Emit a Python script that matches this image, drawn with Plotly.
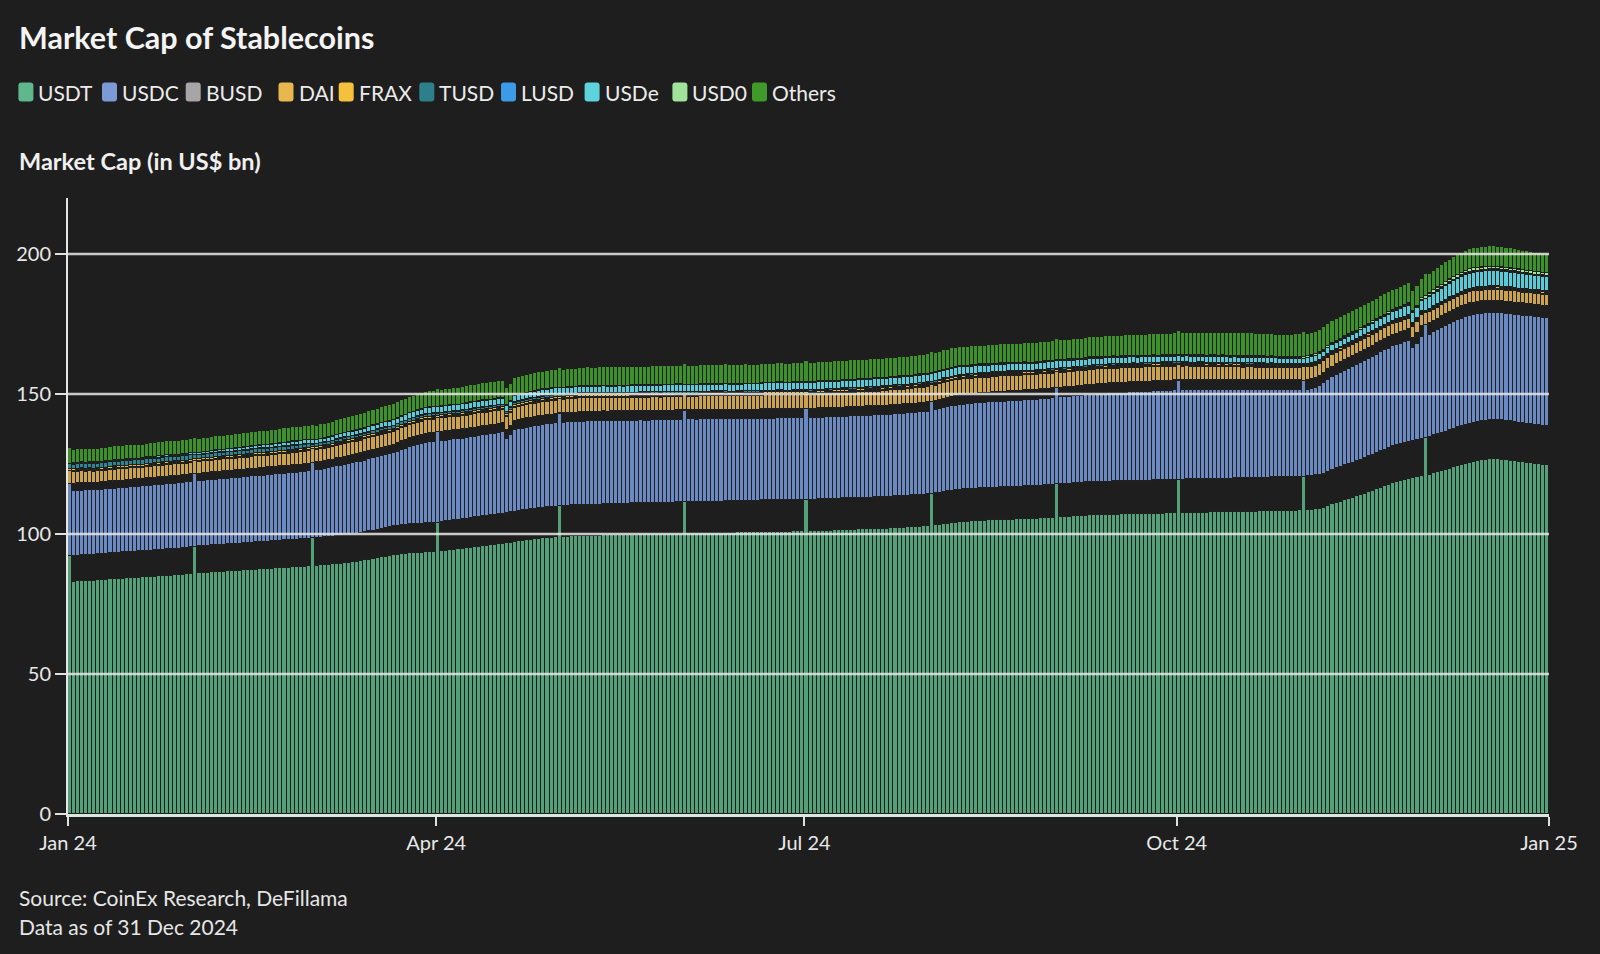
import numpy as np
import pandas as pd
import plotly.graph_objects as go

# ---------------- data (US$ bn, one value per day of 2024) ----------------
YEAR_START = "2024-01-01"
MONTH_DAYS = [31, 29, 31, 30, 31, 30, 31, 31, 30, 31, 30, 31]
SERIES_NAMES = ["USDT", "USDC", "BUSD", "DAI", "FRAX", "TUSD", "LUSD", "USDe", "USD0", "Others"]
TICK_DATES = ["2024-01-01", "2024-04-01", "2024-07-01", "2024-10-01", "2025-01-01"]
TICK_LABELS = ["Jan 24", "Apr 24", "Jul 24", "Oct 24", "Jan 25"]
Y_TICKS = [0, 50, 100, 150, 200]

USDT = [
    [92.0,92.1,92.3,92.4,92.5,92.6,92.6,92.8,92.9,93.0,93.1,93.2,93.3,93.4,93.5,93.6,93.7,93.8,93.9,94.0,94.1,94.2,94.3,94.4,94.5,94.6,94.7,94.8,95.0,95.1,95.3],
    [95.5,95.6,95.7,95.8,95.9,96.0,96.1,96.2,96.3,96.4,96.5,96.6,96.7,96.8,96.9,97.0,97.1,97.2,97.3,97.4,97.5,97.6,97.7,97.8,97.9,98.0,98.1,98.2,98.3],
    [98.5,98.6,98.7,98.8,99.0,99.1,99.3,99.4,99.6,99.8,100.0,100.1,100.3,100.6,100.9,101.2,101.5,101.8,102.1,102.4,102.7,102.9,103.1,103.2,103.4,103.5,103.6,103.7,103.8,103.9,104.0],
    [104.1,104.3,104.5,104.7,104.9,105.1,105.3,105.5,105.7,105.9,106.1,106.3,106.5,106.7,106.9,107.1,107.3,107.5,107.7,107.9,108.2,108.4,108.6,108.8,109.0,109.2,109.4,109.5,109.7,109.8],
    [110.0,110.1,110.1,110.2,110.2,110.3,110.3,110.4,110.4,110.5,110.5,110.6,110.6,110.7,110.7,110.8,110.8,110.8,110.9,110.9,111.0,111.0,111.0,111.1,111.1,111.1,111.2,111.2,111.2,111.3,111.3],
    [111.3,111.4,111.4,111.4,111.5,111.5,111.5,111.6,111.6,111.6,111.7,111.7,111.7,111.8,111.8,111.8,111.9,111.9,111.9,112.0,112.0,112.0,112.0,112.1,112.1,112.1,112.1,112.2,112.2,112.2],
    [112.2,112.3,112.3,112.4,112.4,112.5,112.5,112.6,112.6,112.7,112.7,112.8,112.8,112.9,112.9,113.0,113.0,113.1,113.1,113.2,113.2,113.3,113.4,113.5,113.6,113.7,113.8,113.9,114.0,114.1,114.3],
    [114.4,114.6,114.8,115.0,115.2,115.4,115.6,115.8,115.9,116.0,116.1,116.2,116.3,116.4,116.5,116.6,116.6,116.7,116.7,116.8,116.8,116.9,116.9,117.0,117.0,117.1,117.2,117.3,117.4,117.5,117.6],
    [117.7,117.8,117.9,118.0,118.1,118.2,118.3,118.4,118.5,118.5,118.6,118.6,118.7,118.7,118.8,118.8,118.9,118.9,119.0,119.0,119.0,119.1,119.1,119.1,119.2,119.2,119.2,119.3,119.3,119.4],
    [119.4,119.4,119.5,119.5,119.5,119.6,119.6,119.6,119.7,119.7,119.7,119.8,119.8,119.8,119.9,119.9,119.9,120.0,120.0,120.0,120.1,120.1,120.1,120.2,120.2,120.2,120.3,120.3,120.4,120.4,120.5],
    [120.5,120.6,120.7,120.9,121.2,121.6,122.3,122.9,123.5,124.0,124.5,125.0,125.5,126.0,126.5,127.1,127.7,128.3,128.9,129.5,130.1,130.7,131.3,131.7,132.1,132.5,132.9,133.3,133.6,134.0],
    [134.2,134.7,135.2,135.7,136.2,136.6,137.1,137.6,138.1,138.6,139.0,139.4,139.7,140.0,140.3,140.5,140.7,140.8,140.8,140.6,140.4,140.2,140.0,139.8,139.6,139.4,139.2,139.0,138.8,138.6,138.4],
]

USDC = [
    [25.8,25.8,25.7,25.7,25.6,25.6,25.6,25.5,25.5,25.5,25.6,25.6,25.6,25.6,25.6,25.7,25.7,25.7,25.7,25.8,25.8,25.8,25.8,25.8,25.9,25.9,25.9,25.9,25.9,25.9,25.9],
    [25.9,25.9,26.0,26.0,26.0,26.0,26.1,26.1,26.1,26.1,26.2,26.2,26.2,26.2,26.3,26.3,26.3,26.3,26.4,26.4,26.4,26.5,26.5,26.5,26.6,26.6,26.6,26.7,26.7],
    [26.8,26.9,27.0,27.1,27.2,27.4,27.6,27.8,28.0,28.1,28.2,28.3,28.4,28.5,28.6,28.7,28.8,28.9,29.0,29.0,29.1,29.5,29.9,30.3,30.7,31.0,31.3,31.6,31.9,32.0,32.1],
    [32.2,32.2,32.1,32.1,32.1,32.0,32.0,32.0,32.0,32.0,32.1,32.1,32.1,32.1,32.1,32.2,32.2,29.5,30.8,32.3,32.4,32.5,32.6,32.7,32.7,32.8,32.8,32.9,32.9,33.0],
    [33.0,33.0,33.1,33.1,33.1,33.2,33.2,33.2,33.2,33.1,33.1,33.1,33.0,33.0,33.0,33.0,32.9,32.9,32.9,32.9,32.9,32.8,32.8,32.8,32.8,32.8,32.8,32.8,32.8,32.8,32.8],
    [32.8,32.8,32.8,32.7,32.7,32.7,32.7,32.6,32.6,32.6,32.6,32.5,32.5,32.5,32.5,32.5,32.4,32.4,32.4,32.4,32.4,32.4,32.4,32.4,32.4,32.4,32.4,32.4,32.4,32.4],
    [32.4,32.4,32.4,32.4,32.4,32.4,32.4,32.4,32.4,32.4,32.5,32.5,32.5,32.5,32.5,32.5,32.5,32.5,32.5,32.5,32.6,32.6,32.6,32.6,32.6,32.6,32.6,32.6,32.7,32.7,32.7],
    [32.7,32.9,33.1,33.3,33.4,33.5,33.6,33.7,33.7,33.8,33.8,33.8,33.9,33.9,33.9,34.0,34.0,34.0,34.0,34.1,34.1,34.1,34.1,34.2,34.2,34.2,34.2,34.3,34.3,34.3,34.3],
    [34.3,34.4,34.4,34.5,34.5,34.6,34.6,34.7,34.7,34.8,34.8,34.9,34.9,35.0,35.0,35.0,35.1,35.1,35.1,35.2,35.2,35.2,35.3,35.3,35.3,35.3,35.4,35.4,35.4,35.4],
    [35.4,35.4,35.4,35.3,35.3,35.3,35.3,35.2,35.2,35.2,35.1,35.1,35.1,35.0,35.0,35.0,34.9,34.9,34.9,34.8,34.8,34.8,34.7,34.7,34.6,34.6,34.5,34.5,34.4,34.4,34.3],
    [34.2,34.4,34.6,34.9,35.3,35.8,36.4,36.7,37.0,37.2,37.5,37.7,37.9,38.1,38.3,38.5,38.7,38.9,39.1,39.3,39.4,39.5,39.7,39.8,39.9,40.0,40.1,36.8,38.2,40.3],
    [40.3,40.6,40.9,41.2,41.5,41.8,42.0,42.2,42.4,42.6,42.8,42.9,42.9,42.8,42.7,42.6,42.5,42.4,42.4,42.4,42.5,42.5,42.6,42.6,42.7,42.7,42.8,42.8,42.9,42.9,43.0],
]

DAI = [
    [4.5,4.5,4.6,4.6,4.5,4.5,4.4,4.4,4.5,4.5,4.5,4.6,4.6,4.6,4.5,4.5,4.5,4.4,4.4,4.5,4.5,4.5,4.5,4.6,4.6,4.6,4.6,4.5,4.5,4.5,4.5],
    [4.5,4.5,4.6,4.6,4.6,4.7,4.7,4.7,4.7,4.6,4.6,4.6,4.7,4.7,4.8,4.8,4.8,4.8,4.7,4.7,4.7,4.8,4.8,4.8,4.9,4.9,4.9,4.9,4.9],
    [4.9,4.9,5.0,5.0,5.0,5.0,5.1,5.1,5.1,5.0,5.0,5.0,5.1,5.1,5.1,5.2,5.2,5.2,5.2,5.1,5.1,5.1,5.2,5.2,5.2,5.2,5.3,5.3,5.3,5.2,5.2],
    [5.2,5.2,5.3,5.3,5.3,5.2,5.2,5.2,5.3,5.3,5.3,5.3,5.2,5.2,5.2,5.2,5.1,5.1,5.1,5.2,5.2,5.2,5.3,5.3,5.3,5.3,5.3,5.3,5.3,5.3],
    [5.3,5.3,5.3,5.3,5.4,5.4,5.4,5.4,5.3,5.3,5.3,5.3,5.3,5.2,5.2,5.2,5.2,5.3,5.3,5.3,5.3,5.4,5.4,5.4,5.4,5.3,5.3,5.3,5.3,5.3,5.3],
    [5.3,5.3,5.3,5.4,5.4,5.4,5.4,5.5,5.5,5.5,5.5,5.4,5.4,5.4,5.4,5.5,5.5,5.5,5.5,5.5,5.6,5.6,5.6,5.6,5.6,5.5,5.5,5.5,5.5,5.5],
    [5.5,5.5,5.6,5.6,5.6,5.6,5.7,5.7,5.7,5.7,5.6,5.6,5.6,5.7,5.7,5.7,5.8,5.8,5.8,5.8,5.8,5.9,5.9,5.9,5.9,5.9,5.9,6.0,6.0,6.0,6.0],
    [6.0,6.0,6.1,6.1,6.1,6.2,6.2,6.2,6.2,6.1,6.1,6.1,6.1,6.0,6.0,6.0,6.0,6.1,6.1,6.1,6.1,6.0,6.0,6.0,6.0,5.9,5.9,5.9,5.9,5.9,5.9],
    [5.9,5.9,5.9,5.8,5.8,5.8,5.8,5.8,5.9,5.9,5.9,5.8,5.8,5.8,5.8,5.7,5.7,5.7,5.7,5.7,5.6,5.6,5.6,5.6,5.6,5.6,5.6,5.5,5.5,5.5],
    [5.5,5.5,5.5,5.4,5.4,5.4,5.4,5.3,5.3,5.3,5.3,5.3,5.2,5.2,5.2,5.2,5.1,5.1,5.1,5.1,5.0,5.0,5.0,5.0,5.0,4.9,4.9,4.9,4.9,4.9,4.9],
    [4.9,4.9,4.9,4.8,4.8,4.8,4.7,4.7,4.7,4.6,4.6,4.6,4.5,4.5,4.5,4.4,4.4,4.4,4.3,4.3,4.3,4.3,4.2,4.2,4.2,4.2,4.2,4.2,4.2,4.2],
    [4.2,4.2,4.3,4.3,4.3,4.3,4.4,4.4,4.4,4.4,4.4,4.4,4.4,4.3,4.3,4.3,4.3,4.3,4.4,4.4,4.4,4.4,4.4,4.3,4.3,4.3,4.3,4.3,4.3,4.3,4.3],
]

USDE = [
    [0.2,0.2,0.2,0.2,0.2,0.2,0.3,0.3,0.3,0.3,0.3,0.3,0.3,0.3,0.4,0.4,0.4,0.4,0.4,0.4,0.4,0.5,0.5,0.5,0.5,0.5,0.5,0.5,0.6,0.6,0.6],
    [0.6,0.6,0.7,0.7,0.7,0.8,0.8,0.8,0.9,0.9,0.9,1.0,1.0,1.0,1.0,1.1,1.1,1.1,1.2,1.2,1.2,1.2,1.3,1.3,1.3,1.3,1.4,1.4,1.4],
    [1.4,1.4,1.5,1.5,1.5,1.6,1.6,1.6,1.7,1.7,1.7,1.8,1.8,1.8,1.9,1.9,1.9,2.0,2.0,2.0,2.1,2.1,2.1,2.1,2.2,2.2,2.2,2.2,2.3,2.3,2.3],
    [2.3,2.3,2.3,2.3,2.3,2.3,2.4,2.4,2.4,2.4,2.4,2.4,2.4,2.4,2.4,2.4,2.3,2.3,2.3,2.4,2.4,2.4,2.4,2.4,2.5,2.5,2.5,2.5,2.5,2.5],
    [2.5,2.5,2.5,2.5,2.5,2.5,2.5,2.5,2.5,2.5,2.6,2.6,2.6,2.6,2.6,2.6,2.6,2.6,2.6,2.6,2.5,2.5,2.5,2.5,2.5,2.6,2.6,2.6,2.6,2.6,2.6],
    [2.6,2.6,2.6,2.6,2.6,2.6,2.6,2.6,2.6,2.6,2.7,2.7,2.7,2.7,2.7,2.7,2.7,2.7,2.7,2.7,2.8,2.8,2.8,2.8,2.8,2.8,2.8,2.8,2.8,2.8],
    [2.8,2.8,2.8,2.8,2.8,2.8,2.8,2.8,2.8,2.8,2.9,2.9,2.9,2.9,2.9,2.9,2.9,2.9,2.9,2.9,3.0,3.0,3.0,3.0,3.0,3.0,3.0,3.0,3.0,3.0,3.0],
    [3.0,3.0,3.0,3.0,3.0,3.0,3.0,3.0,2.9,2.9,2.9,2.9,2.9,2.9,2.9,2.9,2.8,2.8,2.8,2.8,2.8,2.8,2.8,2.8,2.7,2.7,2.7,2.7,2.7,2.7,2.7],
    [2.7,2.7,2.7,2.7,2.7,2.6,2.6,2.6,2.6,2.6,2.5,2.5,2.5,2.5,2.5,2.4,2.4,2.4,2.4,2.4,2.3,2.3,2.3,2.3,2.3,2.2,2.2,2.2,2.2,2.2],
    [2.2,2.2,2.2,2.2,2.2,2.2,2.2,2.2,2.2,2.2,2.2,2.2,2.2,2.2,2.2,2.1,2.1,2.1,2.1,2.1,2.1,2.1,2.1,2.1,2.1,2.1,2.1,2.1,2.1,2.1,2.1],
    [2.1,2.1,2.1,2.1,2.1,2.2,2.2,2.3,2.4,2.4,2.5,2.5,2.6,2.6,2.7,2.8,2.9,2.9,3.0,3.0,3.1,3.2,3.3,3.4,3.5,3.6,3.8,3.9,4.0,4.2],
    [4.3,4.5,4.7,4.9,5.1,5.3,5.5,5.6,5.7,5.8,5.9,5.9,6.0,6.0,6.0,6.0,6.0,6.0,5.9,5.9,5.9,5.8,5.8,5.8,5.7,5.7,5.7,5.6,5.6,5.6,5.6],
]

OTHERS = [
    [5.4,5.4,5.5,5.5,5.4,5.4,5.3,5.3,5.4,5.4,5.5,5.5,5.5,5.6,5.6,5.5,5.5,5.4,5.4,5.4,5.5,5.5,5.5,5.6,5.6,5.6,5.5,5.5,5.5,5.4,5.4],
    [5.4,5.4,5.5,5.5,5.5,5.6,5.6,5.5,5.5,5.5,5.6,5.6,5.7,5.7,5.6,5.6,5.6,5.5,5.5,5.6,5.6,5.6,5.7,5.7,5.7,5.6,5.6,5.6,5.6],
    [5.6,5.6,5.7,5.7,5.7,5.8,5.8,5.8,5.9,5.9,5.9,6.0,6.0,6.0,6.1,6.1,6.1,6.1,6.2,6.2,6.2,6.2,6.3,6.3,6.3,6.3,6.4,6.4,6.4,6.4,6.4],
    [6.4,6.5,6.5,6.5,6.6,6.6,6.6,6.7,6.7,6.7,6.7,6.8,6.8,6.8,6.8,6.9,6.9,6.9,6.9,7.0,7.0,7.0,7.0,7.0,7.1,7.1,7.1,7.1,7.1,7.1],
    [7.1,7.1,7.2,7.2,7.2,7.2,7.3,7.3,7.3,7.3,7.3,7.4,7.4,7.4,7.4,7.4,7.3,7.3,7.3,7.4,7.4,7.4,7.4,7.5,7.5,7.5,7.5,7.5,7.5,7.5,7.5],
    [7.5,7.5,7.5,7.5,7.5,7.5,7.5,7.5,7.6,7.6,7.6,7.6,7.6,7.6,7.6,7.6,7.5,7.5,7.5,7.5,7.5,7.5,7.6,7.6,7.6,7.6,7.6,7.6,7.6,7.6],
    [7.6,7.6,7.6,7.6,7.6,7.6,7.6,7.6,7.6,7.6,7.7,7.7,7.7,7.7,7.7,7.7,7.7,7.7,7.7,7.7,7.6,7.6,7.6,7.6,7.6,7.6,7.6,7.6,7.6,7.6,7.6],
    [7.6,7.6,7.6,7.6,7.6,7.6,7.6,7.6,7.5,7.5,7.5,7.5,7.5,7.5,7.5,7.5,7.6,7.6,7.6,7.6,7.6,7.6,7.6,7.6,7.7,7.7,7.7,7.7,7.7,7.7,7.7],
    [7.7,7.7,7.8,7.8,7.8,7.9,7.9,7.9,8.0,8.0,8.0,8.1,8.1,8.1,8.2,8.2,8.2,8.3,8.3,8.3,8.4,8.4,8.4,8.5,8.5,8.5,8.5,8.6,8.6,8.6],
    [8.6,8.7,8.7,8.8,8.8,8.8,8.9,8.9,8.9,9.0,9.0,9.0,9.0,9.1,9.1,9.1,9.1,9.0,9.0,9.0,8.9,8.9,8.9,8.8,8.8,8.8,8.8,8.9,8.9,9.0,9.0],
    [9.0,9.0,8.9,8.9,8.8,8.8,8.7,8.7,8.6,8.6,8.5,8.5,8.4,8.4,8.3,8.3,8.2,8.2,8.1,8.1,8.0,8.0,7.9,7.9,7.9,7.8,7.8,7.8,7.8,7.8],
    [7.8,7.8,7.8,7.8,7.8,7.8,7.8,7.8,7.8,7.8,7.9,7.9,8.0,8.0,8.1,8.1,8.1,8.1,8.0,8.0,7.9,7.9,7.8,7.8,7.7,7.7,7.6,7.6,7.5,7.5,7.4],
]

# thin series: one reading per month (each day of the month uses that month's reading)
BUSD_MONTHLY = [0.09, 0.09, 0.08, 0.08, 0.08, 0.07, 0.07, 0.07, 0.06, 0.06, 0.06, 0.06]
FRAX_MONTHLY = [0.65, 0.65, 0.65, 0.65, 0.62, 0.60, 0.55, 0.50, 0.45, 0.45, 0.45, 0.45]
TUSD_MONTHLY = [1.8, 1.5, 1.0, 0.8, 0.6, 0.5, 0.5, 0.5, 0.5, 0.45, 0.4, 0.4]
LUSD_MONTHLY = [0.10, 0.10, 0.10, 0.10, 0.10, 0.08, 0.07, 0.07, 0.07, 0.07, 0.06, 0.06]
USD0_MONTHLY = [0.0, 0.0, 0.0, 0.0, 0.0, 0.0, 0.1, 0.2, 0.3, 0.4, 0.5, 1.0]

# ---------------- styles ----------------
BG = "#1e1e1e"
FONT = "Lato"
SWATCH_COLORS = ["#5fb88c", "#7b9ad6", "#a6a6a6", "#e8b84f", "#f5c03c",
                 "#2e7f8c", "#3c9ae6", "#5cd3dd", "#a1e39b", "#3f9a2a"]
BAR_COLORS = ["#54a078", "#6b8ac2", "#a6a6a6", "#cba24e", "#eab93c",
              "#2e8592", "#3c9ae6", "#5acbd6", "#a1e39b", "#3d9128"]
GROW = 0.9              # drawn share of each segment (first day of month drawn full)
DAY_MS = 86400000
BAR_W = 1.0
BAR_EDGE = 1.0
PLOT_L, PLOT_R, PLOT_T, PLOT_B = 68, 1549, 198, 814
W, H = 1600, 954
LEGEND_SWATCH_X = [18.4, 102, 185.7, 278.5, 338.7, 419.3, 501, 584.6, 672.4, 752]
LEGEND_Y = 92

problems = []


def daily(months, name):
    out = []
    for m, vals in enumerate(months):
        n = MONTH_DAYS[m]
        if len(vals) != n:
            problems.append(f"{name} month {m+1}: {len(vals)} values, expected {n}")
            vals = (list(vals) + [vals[-1]] * n)[:n]
        out.extend(vals)
    return np.array(out, dtype=float)


def per_month(vals):
    return np.array([v for v, n in zip(vals, MONTH_DAYS) for _ in range(n)], dtype=float)


series = [
    daily(USDT, "USDT"), daily(USDC, "USDC"), per_month(BUSD_MONTHLY), daily(DAI, "DAI"),
    per_month(FRAX_MONTHLY), per_month(TUSD_MONTHLY), per_month(LUSD_MONTHLY),
    daily(USDE, "USDe"), per_month(USD0_MONTHLY), daily(OTHERS, "Others"),
]

dates = pd.date_range(YEAR_START, periods=sum(MONTH_DAYS), freq="D")
drawn_share = np.where(dates.day == 1, 1.0, GROW)

fig = go.Figure()
base = np.zeros(len(dates))
for name, vals, color in zip(SERIES_NAMES, series, BAR_COLORS):
    fig.add_trace(go.Bar(
        x=dates, y=vals * drawn_share, base=base.copy(), name=name,
        marker=dict(color=color, line=dict(width=BAR_EDGE, color=BG)),
        width=DAY_MS * BAR_W, offset=DAY_MS * (1 - BAR_W) / 2,
        showlegend=False, hoverinfo="skip",
    ))
    base = base + vals

pw = PLOT_R - PLOT_L
ph = PLOT_B - PLOT_T


def px(x):
    return (x - PLOT_L) / pw


def py(y):
    return (PLOT_B - y) / ph


shapes = []
for t in Y_TICKS[1:]:
    shapes.append(dict(type="line", xref="paper", x0=0, x1=1, yref="y", y0=t, y1=t,
                       line=dict(color="rgba(232,232,232,0.85)", width=2.4), layer="above"))

annotations = []
# legend (swatch + label)
for name, color, sx in zip(SERIES_NAMES, SWATCH_COLORS, LEGEND_SWATCH_X):
    x0, x1 = sx, sx + 15
    y0, y1 = LEGEND_Y - 9.5, LEGEND_Y + 9.5
    r = 3
    path = (f"M {px(x0+r)},{py(y0)} L {px(x1-r)},{py(y0)} Q {px(x1)},{py(y0)} {px(x1)},{py(y0+r)} "
            f"L {px(x1)},{py(y1-r)} Q {px(x1)},{py(y1)} {px(x1-r)},{py(y1)} "
            f"L {px(x0+r)},{py(y1)} Q {px(x0)},{py(y1)} {px(x0)},{py(y1-r)} "
            f"L {px(x0)},{py(y0+r)} Q {px(x0)},{py(y0)} {px(x0+r)},{py(y0)} Z")
    shapes.append(dict(type="path", xref="paper", yref="paper", path=path,
                       fillcolor=color, line=dict(width=0), layer="above"))
    annotations.append(dict(text=name, xref="paper", yref="paper", x=px(sx + 18), y=py(LEGEND_Y),
                            xanchor="left", yanchor="middle", showarrow=False,
                            font=dict(family=FONT, size=21, color="#ececec")))

annotations += [
    dict(text="<b>Market Cap of Stablecoins</b>", xref="paper", yref="paper",
         x=px(17), y=py(37), xanchor="left", yanchor="middle", showarrow=False,
         font=dict(family=FONT, size=30.5, color="#f4f4f4")),
    dict(text="<b>Market Cap (in US$ bn)</b>", xref="paper", yref="paper",
         x=px(17), y=py(161), xanchor="left", yanchor="middle", showarrow=False,
         font=dict(family=FONT, size=23.5, color="#f0f0f0")),
    dict(text="Source: CoinEx Research, DeFillama", xref="paper", yref="paper",
         x=px(17), y=py(898), xanchor="left", yanchor="middle", showarrow=False,
         font=dict(family=FONT, size=21, color="#e6e6e6")),
    dict(text="Data as of 31 Dec 2024", xref="paper", yref="paper",
         x=px(17), y=py(926), xanchor="left", yanchor="middle", showarrow=False,
         font=dict(family=FONT, size=21, color="#e6e6e6")),
]

fig.update_layout(
    width=W, height=H,
    margin=dict(l=PLOT_L, r=W - PLOT_R, t=PLOT_T, b=H - PLOT_B, pad=0),
    paper_bgcolor=BG, plot_bgcolor=BG,
    barmode="overlay", bargap=0,
    showlegend=False,
    font=dict(family=FONT, color="#e6e6e6", size=19),
    shapes=shapes, annotations=annotations,
    xaxis=dict(
        type="date", range=[TICK_DATES[0], TICK_DATES[-1]],
        tickmode="array", tickvals=TICK_DATES, ticktext=TICK_LABELS,
        showgrid=False, zeroline=False,
        showline=True, linecolor="#dde6df", linewidth=2.5,
        ticks="outside", ticklen=9, tickwidth=2, tickcolor="#e0e0e0",
        tickfont=dict(family=FONT, size=20, color="#e8e8e8"),
        layer="above traces", fixedrange=True,
    ),
    yaxis=dict(
        range=[0, 220], tickmode="array", tickvals=Y_TICKS,
        showgrid=False, zeroline=False,
        showline=True, linecolor="#e6e6e6", linewidth=2,
        ticks="outside", ticklen=11, tickwidth=2, tickcolor="#e0e0e0",
        tickfont=dict(family=FONT, size=20, color="#e8e8e8"),
        layer="above traces", fixedrange=True,
    ),
)

fig.write_html("out.html")

if problems:
    raise SystemExit("DATA LENGTH PROBLEMS: " + "; ".join(problems))
